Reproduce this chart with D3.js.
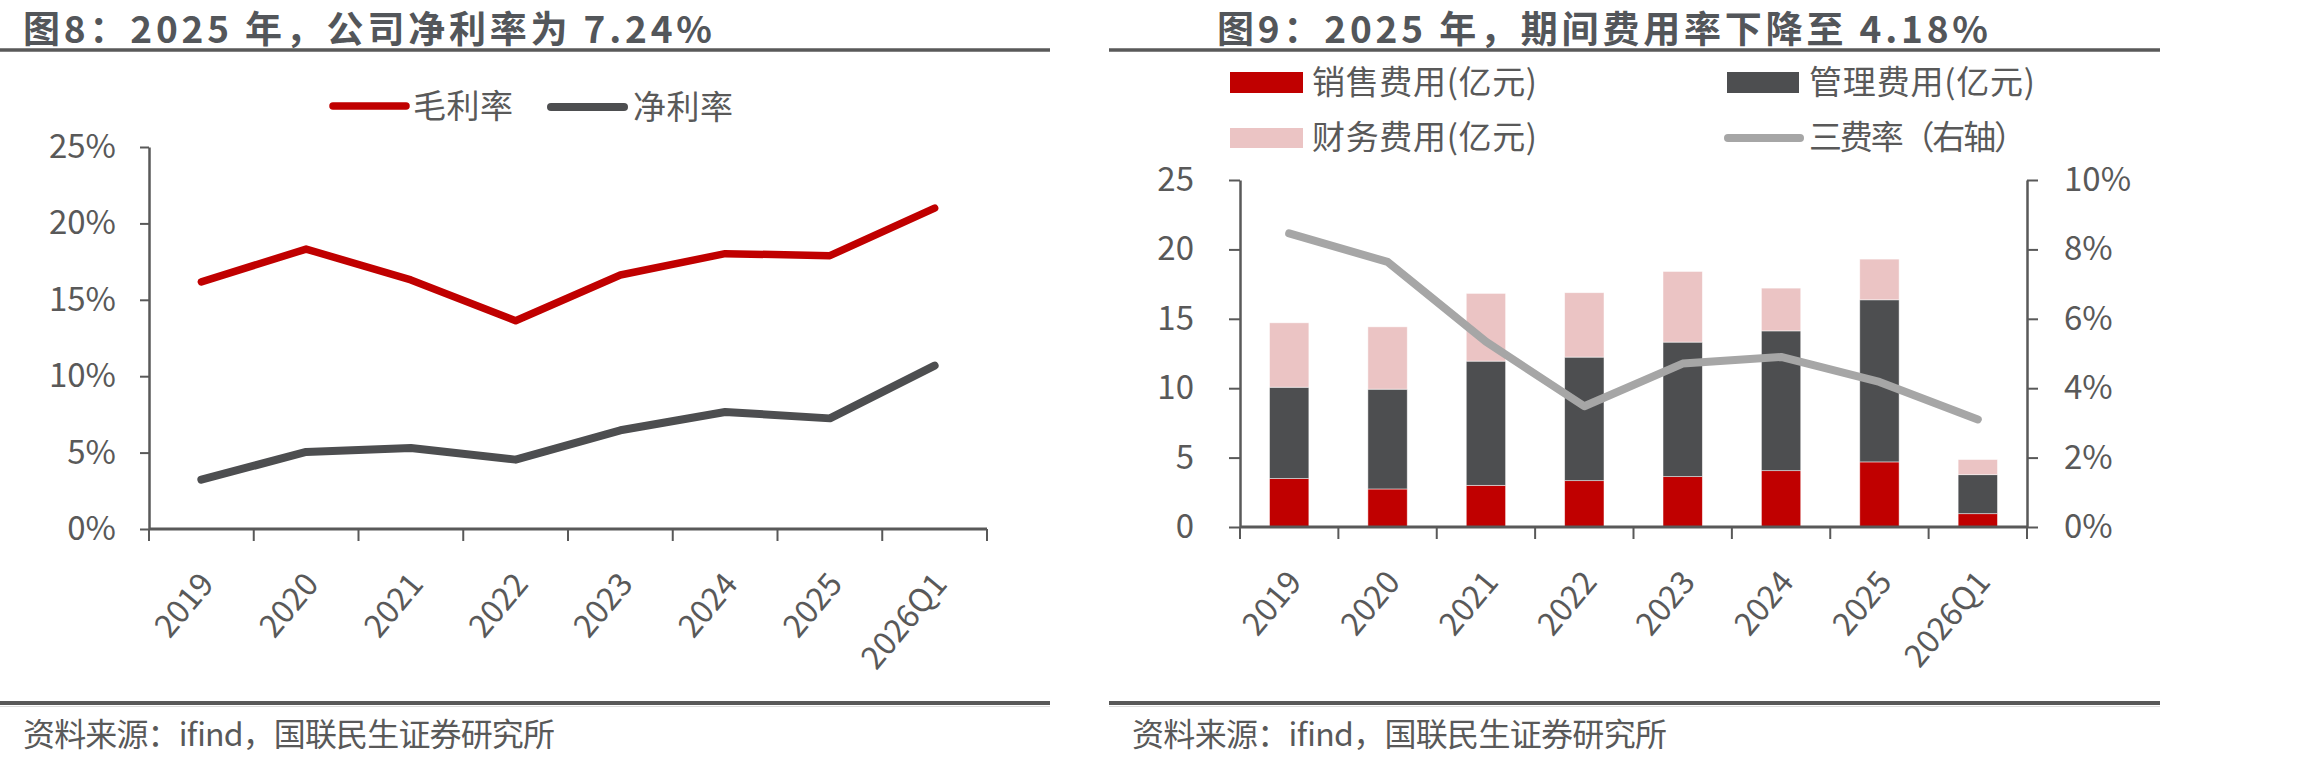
<!DOCTYPE html>
<html>
<head>
<meta charset="utf-8">
<title>图8 / 图9</title>
<script src="https://cdn.jsdelivr.net/npm/d3@7"></script>
<style>
  html, body { margin: 0; padding: 0; background: #ffffff; }
  svg text { font-family: "Noto Sans CJK SC", "Noto Sans", sans-serif; fill: #595959; }
</style>
</head>
<body>
<svg id="chart" width="2310" height="765"></svg>
<script>
// categories
var years = ["2019", "2020", "2021", "2022", "2023", "2024", "2025", "2026Q1"];

// 图8: margins
var grossMargin = [0.1617, 0.1832, 0.1630, 0.1363, 0.1662, 0.1802, 0.1789, 0.2100];
var netMargin   = [0.0323, 0.0504, 0.0530, 0.0454, 0.0646, 0.0766, 0.0724, 0.1069];
var marginTicks = [0, 0.05, 0.10, 0.15, 0.20, 0.25];

// 图9: expenses (亿元) and expense rate
var salesExp = [3.49, 2.74, 3.00, 3.34, 3.63, 4.06, 4.69, 0.96];
var adminExp = [6.58, 7.19, 8.95, 8.90, 9.69, 10.07, 11.68, 2.81];
var finExp   = [4.64, 4.49, 4.88, 4.64, 5.09, 3.08, 2.93, 1.09];
var expRate  = [0.0846, 0.0764, 0.0534, 0.0348, 0.0471, 0.0490, 0.0418, 0.0310];
var amountTicks = [0, 5, 10, 15, 20, 25];
var rateTicks = [0, 0.02, 0.04, 0.06, 0.08, 0.10];

var RED = "#C00000", DARK = "#4D4E50", PINK = "#EBC4C4", LIGHT = "#A6A6A6", AXIS = "#595959";

var svg = d3.select("#chart");

// ---------- frame: titles, rules, sources ----------
function frame(x0, x1, title, titleX, titleLen, srcX, srcLen) {
    svg.append("text")
        .attr("x", titleX).attr("y", 43)
        .attr("font-size", 37).attr("font-weight", 700)
        .attr("textLength", titleLen).attr("lengthAdjust", "spacing")
        .style("fill", "#53565A")
        .text(title);
    svg.append("line").attr("x1", x0).attr("x2", x1).attr("y1", 50).attr("y2", 50)
        .attr("stroke", AXIS).attr("stroke-width", 3.5);
    svg.append("line").attr("x1", x0).attr("x2", x1).attr("y1", 703).attr("y2", 703)
        .attr("stroke", AXIS).attr("stroke-width", 4);
    svg.append("line").attr("x1", x0).attr("x2", x1).attr("y1", 706.5).attr("y2", 706.5)
        .attr("stroke", "#dcdcdc").attr("stroke-width", 1);
    svg.append("text")
        .attr("x", srcX).attr("y", 734).attr("dy", "0.36em")
        .attr("font-size", 32)
        .attr("textLength", srcLen).attr("lengthAdjust", "spacing")
        .text("资料来源：ifind，国联民生证券研究所");
}
frame(0, 1050, "图8：2025 年，公司净利率为 7.24%", 23, 689, 23, 532);
frame(1109, 2160, "图9：2025 年，期间费用率下降至 4.18%", 1217, 771, 1132, 535);

function legendText(x, y, len, label) {
    svg.append("text")
        .attr("x", x).attr("y", y).attr("dy", "0.36em")
        .attr("font-size", 33)
        .attr("textLength", len).attr("lengthAdjust", "spacing")
        .text(label);
}

function categoryAxis(g, x, yPos) {
    var bounds = years.map(function(d) { return x(d); }).concat([x.range()[1]]);
    g.append("line")
        .attr("x1", x.range()[0]).attr("x2", x.range()[1])
        .attr("y1", yPos).attr("y2", yPos)
        .attr("stroke", AXIS).attr("stroke-width", 3);
    g.selectAll(".xtick").data(bounds).enter().append("line")
        .attr("x1", function(d) { return d; }).attr("x2", function(d) { return d; })
        .attr("y1", yPos).attr("y2", yPos + 12)
        .attr("stroke", AXIS).attr("stroke-width", 2);
    g.selectAll(".xlab").data(years).enter().append("text")
        .attr("font-size", 32)
        .attr("text-anchor", "end")
        .attr("transform", function(d) {
            var cx = x(d) + x.bandwidth() / 2 + 14;
            return "translate(" + cx + "," + (yPos + 56) + ") rotate(-50)";
        })
        .text(function(d) { return d; });
}

function styleAxis(g, width) {
    g.select(".domain").attr("stroke", AXIS).attr("stroke-width", width);
    g.selectAll(".tick line").attr("stroke", AXIS).attr("stroke-width", 2);
    g.selectAll(".tick text").attr("font-size", 33).attr("font-family", null).style("fill", "#595959");
}

// ---------- 图8 ----------
var x1 = d3.scaleBand().domain(years).range([149, 987]).padding(0);
var y1 = d3.scaleLinear().domain([0, 0.25]).range([529, 147]);

var left = svg.append("g");
left.append("g")
    .attr("transform", "translate(149,0)")
    .call(d3.axisLeft(y1).tickValues(marginTicks).tickFormat(d3.format(".0%"))
        .tickSizeInner(9).tickSizeOuter(0).tickPadding(24))
    .call(function(g) { styleAxis(g, 2.5); });
categoryAxis(left, x1, 529);

var line1 = d3.line()
    .x(function(d, i) { return x1(years[i]) + x1.bandwidth() / 2; })
    .y(function(d) { return y1(d); });

left.append("path").datum(grossMargin)
    .attr("d", line1).attr("fill", "none")
    .attr("stroke", RED).attr("stroke-width", 7.5)
    .attr("stroke-linejoin", "round").attr("stroke-linecap", "round");
left.append("path").datum(netMargin)
    .attr("d", line1).attr("fill", "none")
    .attr("stroke", DARK).attr("stroke-width", 8)
    .attr("stroke-linejoin", "round").attr("stroke-linecap", "round");

// legend
left.append("line").attr("x1", 333).attr("x2", 406).attr("y1", 106).attr("y2", 106)
    .attr("stroke", RED).attr("stroke-width", 7.5).attr("stroke-linecap", "round");
legendText(413, 106, 100, "毛利率");
left.append("line").attr("x1", 551).attr("x2", 624).attr("y1", 107).attr("y2", 107)
    .attr("stroke", DARK).attr("stroke-width", 8).attr("stroke-linecap", "round");
legendText(633, 107, 100, "净利率");

// ---------- 图9 ----------
var x2 = d3.scaleBand().domain(years).range([1240, 2027]).padding(0);
var y2 = d3.scaleLinear().domain([0, 25]).range([527, 180]);
var y2r = d3.scaleLinear().domain([0, 0.10]).range([527, 180]);

var right = svg.append("g");

var table = years.map(function(d, i) {
    return { year: d, sales: salesExp[i], admin: adminExp[i], fin: finExp[i] };
});
var keys = ["sales", "admin", "fin"];
var colors = d3.scaleOrdinal().domain(keys).range([RED, DARK, PINK]);
var stacked = d3.stack().keys(keys)(table);
var barW = x2.bandwidth() * 0.4;

right.selectAll(".layer").data(stacked).enter().append("g")
    .attr("fill", function(d) { return colors(d.key); })
    .selectAll("rect").data(function(d) { return d; }).enter().append("rect")
    .attr("x", function(d) { return x2(d.data.year) + (x2.bandwidth() - barW) / 2; })
    .attr("width", barW)
    .attr("y", function(d) { return y2(d[1]); })
    .attr("height", function(d) { return y2(d[0]) - y2(d[1]); })
    .attr("stroke", "#ffffff").attr("stroke-width", 0.8).attr("stroke-opacity", 0.6);

right.append("g")
    .attr("transform", "translate(1240,0)")
    .call(d3.axisLeft(y2).tickValues(amountTicks).tickFormat(d3.format("d"))
        .tickSizeInner(11).tickSizeOuter(0).tickPadding(35))
    .call(function(g) { styleAxis(g, 2.5); });
right.append("g")
    .attr("transform", "translate(2027,0)")
    .call(d3.axisRight(y2r).tickValues(rateTicks).tickFormat(d3.format(".0%"))
        .tickSizeInner(11).tickSizeOuter(0).tickPadding(26))
    .call(function(g) { styleAxis(g, 2.5); });
categoryAxis(right, x2, 527);

var line2 = d3.line()
    .x(function(d, i) { return x2(years[i]) + x2.bandwidth() / 2; })
    .y(function(d) { return y2r(d); });
right.append("path").datum(expRate)
    .attr("d", line2).attr("fill", "none")
    .attr("stroke", LIGHT).attr("stroke-width", 8)
    .attr("stroke-linejoin", "round").attr("stroke-linecap", "round");

// legend
right.append("rect").attr("x", 1230).attr("y", 72).attr("width", 73).attr("height", 21).attr("fill", RED);
legendText(1312, 82, 225, "销售费用(亿元)");
right.append("rect").attr("x", 1727).attr("y", 72).attr("width", 72).attr("height", 21).attr("fill", DARK);
legendText(1809, 82, 226, "管理费用(亿元)");
right.append("rect").attr("x", 1230).attr("y", 128).attr("width", 73).attr("height", 20).attr("fill", PINK);
legendText(1312, 137, 225, "财务费用(亿元)");
right.append("line").attr("x1", 1728).attr("x2", 1800).attr("y1", 138).attr("y2", 138)
    .attr("stroke", LIGHT).attr("stroke-width", 8).attr("stroke-linecap", "round");
legendText(1809, 137, 218, "三费率（右轴）");
</script>
</body>
</html>
